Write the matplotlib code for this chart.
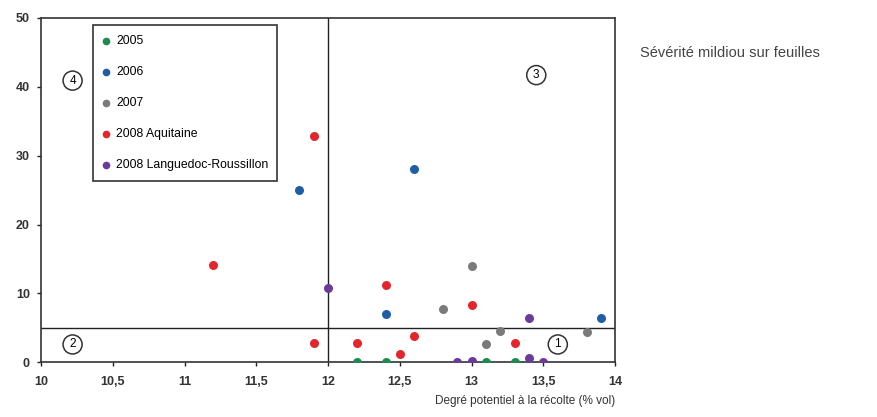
from matplotlib import pyplot as plt
from matplotlib.ticker import FuncFormatter
import numpy as np

# degré potentiel (% vol) / sévérité mildiou (%)
x_2005 = [12.2, 12.4, 13.1, 13.3]
y_2005 = [0, 0, 0, 0]

x_2006 = [11.8, 12.6, 12.4, 13.9]
y_2006 = [25, 28, 7, 6.4]

x_2007 = [13.0, 12.8, 13.1, 13.2, 13.8]
y_2007 = [14, 7.7, 2.6, 4.6, 4.4]

x_2008_aq = [11.2, 11.9, 11.9, 12.2, 12.4, 12.5, 12.6, 13.0, 13.3]
y_2008_aq = [14.2, 32.8, 2.8, 2.8, 11.3, 1.2, 3.8, 8.3, 2.8]

x_2008_lr = [12.0, 12.9, 13.0, 13.0, 13.4, 13.4, 13.5]
y_2008_lr = [10.8, 0, 0, 0.2, 6.4, 0.7, 0]

series = [
    ("2005", x_2005, y_2005, "#1d8a4e"),
    ("2006", x_2006, y_2006, "#1f5ea6"),
    ("2007", x_2007, y_2007, "#7a7a7a"),
    ("2008 Aquitaine", x_2008_aq, y_2008_aq, "#e2262c"),
    ("2008 Languedoc-Roussillon", x_2008_lr, y_2008_lr, "#6b3b99"),
]

# numéros des quadrants
quad_labels = ["1", "2", "3", "4"]
quad_x = [13.6, 10.22, 13.45, 10.22]
quad_y = [2.6, 2.6, 41.7, 40.9]

plt.rcParams["font.family"] = ["Liberation Sans", "DejaVu Sans"]

fig = plt.figure(figsize=(8.78, 4.17), dpi=100)
ax = fig.add_axes([0.0467, 0.131, 0.654, 0.826])

for label, xs, ys, color in series:
    ax.scatter(xs, ys, s=42, color=color, label=label, zorder=3, linewidths=0)

ax.axhline(5, color="#222222", linewidth=1.0, zorder=2)
ax.axvline(12, color="#222222", linewidth=1.0, zorder=2)

for txt, qx, qy in zip(quad_labels, quad_x, quad_y):
    ax.text(qx, qy, txt, fontsize=8.5, ha="center", va="center",
            bbox=dict(boxstyle="circle,pad=0.3", fc="white", ec="#333333", lw=1.1))

ax.set_xlim(10, 14)
ax.set_ylim(0, 50)
ax.set_xticks(np.arange(10, 14.01, 0.5))
ax.set_yticks(np.arange(0, 51, 10))
ax.xaxis.set_major_formatter(FuncFormatter(lambda v, p: f"{v:g}".replace(".", ",")))
ax.tick_params(labelsize=9, length=3, width=1, colors="#222222")
ax.tick_params(axis="x", pad=7)
ax.tick_params(axis="y", pad=5)
for lab in ax.get_xticklabels() + ax.get_yticklabels():
    lab.set_fontweight("bold")
    lab.set_color("#333333")
for s in ax.spines.values():
    s.set_color("#333333")
    s.set_linewidth(1.2)

leg = ax.legend(loc="upper left", bbox_to_anchor=(0.0906, 0.0, 0.32, 0.9805),
                mode="expand", fontsize=8.8, labelspacing=1.55, handletextpad=0.55,
                handlelength=0.5, borderpad=0.85, borderaxespad=0, fancybox=False,
                framealpha=1, scatterpoints=1, markerscale=0.85)
leg.get_frame().set_edgecolor("#333333")
leg.get_frame().set_linewidth(1.2)

fig.text(0.7005, 0.025, "Degré potentiel à la récolte (% vol)", ha="right",
         va="bottom", fontsize=8.5, color="#333333")
fig.text(0.729, 0.872, "Sévérité mildiou sur feuilles", ha="left", va="center",
         fontsize=10.5, color="#444444")

plt.savefig("out.png", dpi=100)
